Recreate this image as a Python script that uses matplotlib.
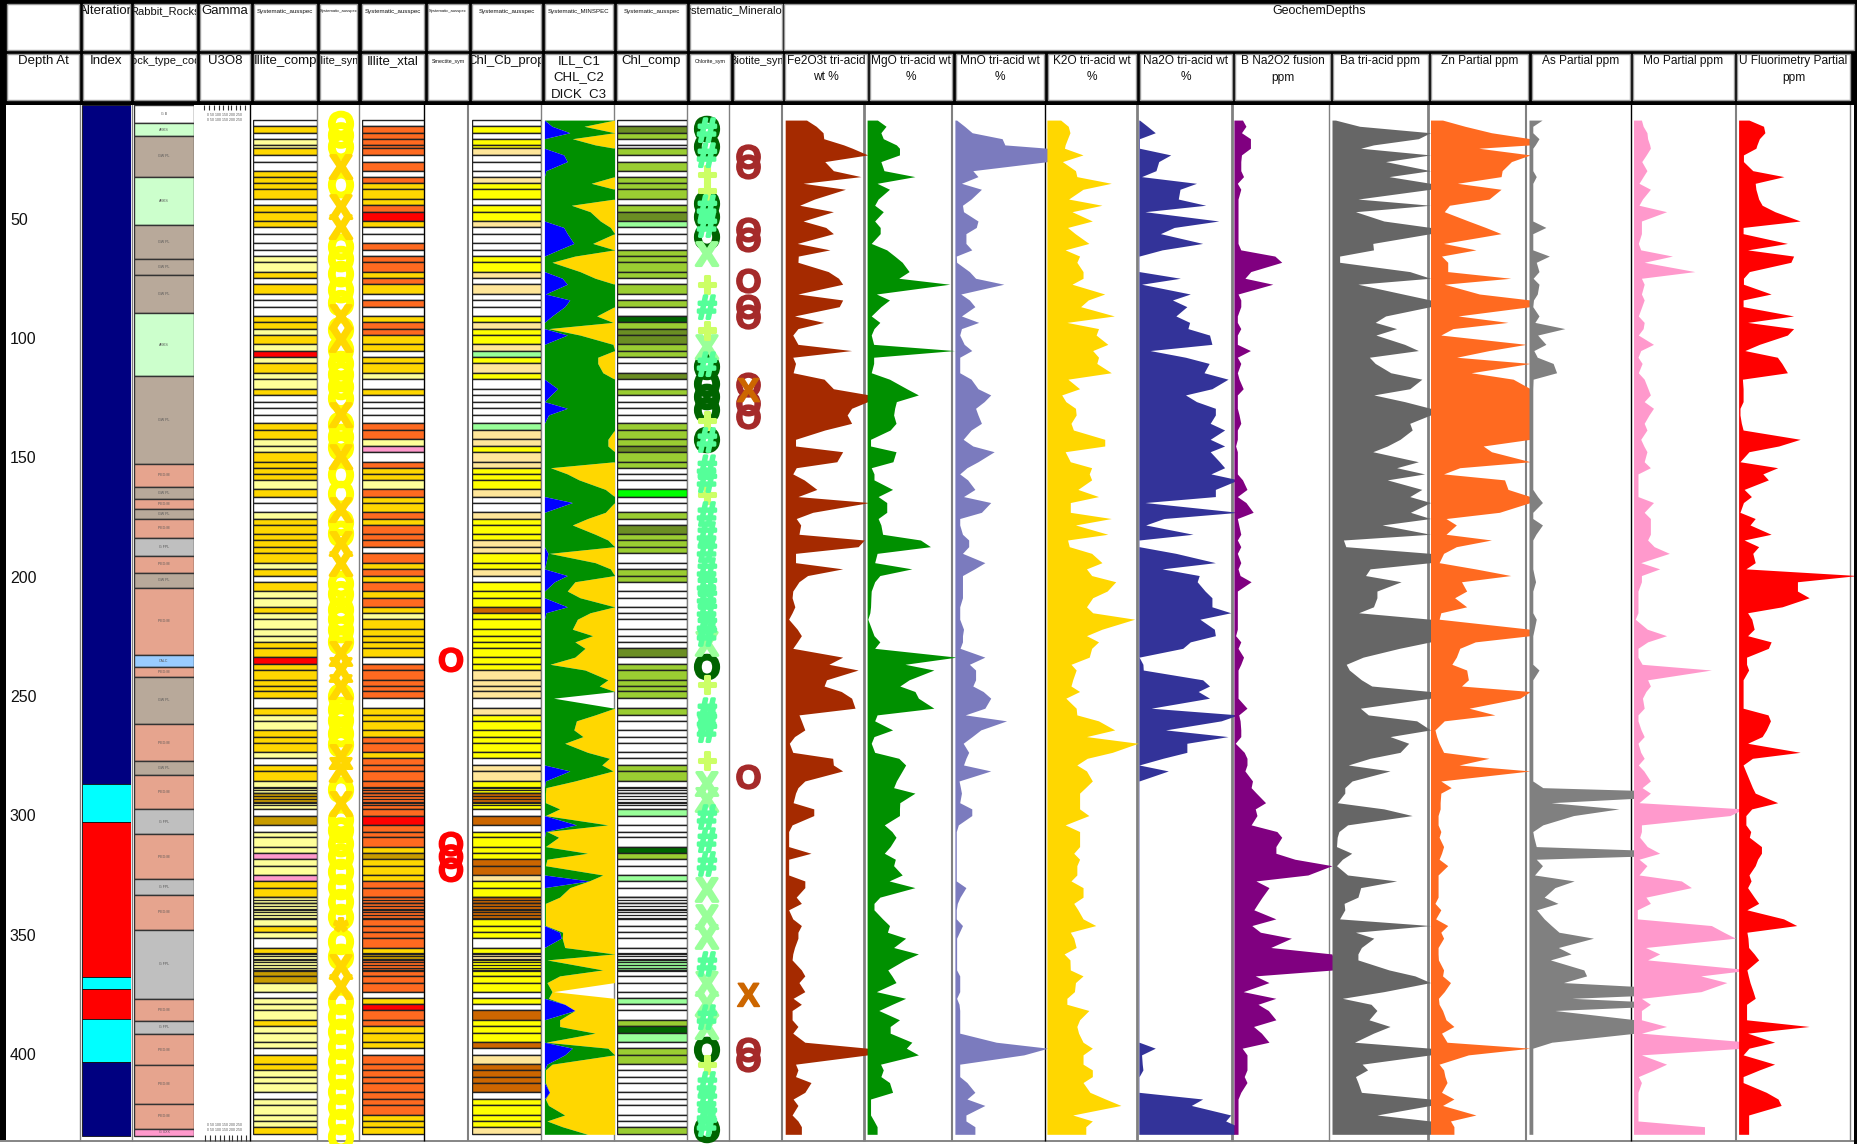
import matplotlib
matplotlib.use('Agg')
import matplotlib.pyplot as plt
import matplotlib.patheffects as pe
from matplotlib.patches import Rectangle

plt.rcParams['font.family'] = ['Liberation Sans', 'DejaVu Sans']

W, H = 1858, 1144
TOP_Y, BOT_Y = 104, 1141
DEPTH_TOP, DEPTH_BOT = 1.26, 435.9

depth = [
    8.0, 10.6, 13.3, 15.8, 18.4, 19.8, 22.6, 25.4, 29.2, 31.7,
    34.5, 37.0, 41.1, 43.7, 46.4, 50.3, 53.0, 55.6, 59.7, 62.4,
    65.0, 67.6, 71.5, 74.3, 76.8, 80.9, 83.4, 86.2, 90.1, 92.8,
    95.4, 98.1, 102.0, 104.6, 107.4, 110.0, 113.9, 116.6, 120.6, 123.2,
    126.0, 128.8, 131.6, 135.1, 137.9, 141.8, 144.6, 147.0, 151.2, 153.7,
    156.3, 158.8, 162.8, 165.8, 168.3, 172.4, 175.0, 177.7, 181.6, 184.0,
    186.8, 189.6, 193.5, 196.1, 198.9, 201.5, 205.4, 208.2, 212.0, 214.5,
    217.2,
    221.4, 224.1, 226.7, 229.4, 233.1, 236.1, 238.5, 242.6, 245.2, 247.5,
    250.3, 254.5, 257.3, 259.8, 263.6, 266.4, 269.2, 273.0, 275.5, 278.3,
    280.8, 285.0, 287.8, 290.1, 294.1, 296.7, 299.5, 303.4, 306.2, 308.6,
    312.5, 315.3, 317.8, 320.5, 324.4, 326.9, 329.7, 333.7, 336.3, 339.0,
    342.8, 345.6, 348.4, 350.9, 354.8, 357.5, 360.0, 364.2, 366.7, 369.5,
    373.3, 376.1, 378.6, 381.2, 385.1, 387.9, 390.7, 394.5, 397.0, 399.8,
    403.7, 406.1, 408.9, 411.4, 415.5, 418.3, 421.0, 425.0, 427.5, 429.9,
    433.1,
]

fe2o3 = [
    62, 90, 110, 112, 170, 195, 240, 115, 140, 220,
    52, 175, 85, 42, 140, 52, 118, 140, 35, 130,
    38, 37, 125, 155, 167, 37, 167, 157, 27, 112,
    37, 22, 37, 193, 22, 30, 23, 113, 140, 245,
    240, 193, 180, 193, 115, 30, 30, 167, 150, 32,
    22, 55, 92, 37, 245, 80, 32, 45, 40, 230,
    212, 30, 30, 167, 65, 40, 22, 20, 28, 20,
    10,
    35, 47, 35, 22, 167, 127, 212, 120, 113, 163,
    193, 203, 40, 47, 57, 27, 12, 22, 138, 140,
    167, 57, 37, 30, 23, 83, 83, 20, 10, 10,
    10, 75, 10, 10, 10, 57, 57, 32, 47, 10,
    22, 47, 37, 37, 27, 22, 20, 47, 57, 40,
    57, 23, 47, 20, 20, 37, 22, 57, 240, 240,
    30, 37, 30, 75, 57, 23, 37, 20, 37, 47,
    47,
]
mgo = [
    30, 55, 40, 47, 85, 94, 94, 40, 49, 139,
    29, 65, 32, 22, 47, 22, 38, 38, 12, 57,
    80, 102, 122, 92, 240, 27, 65, 40, 12, 37,
    20, 12, 19, 254, 19, 19, 12, 65, 115, 149,
    85, 80, 77, 84, 67, 10, 10, 84, 75, 12,
    20, 20, 74, 32, 57, 57, 32, 40, 45, 155,
    184, 29, 22, 130, 37, 22, 12, 11, 10, 8,
    2,
    13, 20, 37, 22, 260, 110, 194, 122, 95, 139,
    149, 194, 29, 22, 74, 20, 12, 22, 92, 112,
    102, 85, 77, 139, 95, 94, 94, 50, 72, 84,
    67, 50, 82, 77, 102, 64, 139, 37, 20, 20,
    45, 65, 59, 112, 77, 149, 110, 60, 72, 84,
    27, 112, 73, 34, 94, 67, 67, 130, 114, 149,
    39, 47, 40, 65, 74, 10, 10, 10, 20, 29,
    29,
]
mno = [
    5, 28, 50, 137, 145, 270, 270, 270, 52, 67,
    19, 77, 47, 22, 25, 67, 62, 32, 32, 49,
    4, 5, 42, 60, 142, 17, 42, 58, 19, 69,
    19, 14, 27, 49, 14, 14, 14, 47, 67, 104,
    85, 60, 67, 77, 47, 24, 52, 114, 67, 35,
    14, 37, 58, 25, 104, 77, 14, 14, 22, 40,
    40, 22, 87, 57, 22, 22, 22, 22, 14, 14,
    14,
    25, 22, 22, 15, 87, 42, 60, 60, 52, 82,
    104, 87, 30, 150, 75, 50, 24, 40, 32, 25,
    104, 12, 16, 19, 14, 49, 49, 10, 4, 4,
    4, 4, 4, 4, 4, 4, 32, 15, 7, 4,
    4, 22, 13, 5, 5, 5, 5, 5, 14, 14,
    14, 5, 12, 14, 14, 14, 14, 120, 270, 200,
    14, 14, 14, 35, 58, 35, 87, 32, 32, 58,
    58,
]
k2o = [
    40, 62, 67, 60, 53, 51, 105, 45, 83, 87,
    187, 105, 63, 160, 73, 132, 60, 82, 122, 53,
    95, 87, 105, 105, 73, 168, 120, 98, 196, 58,
    150, 143, 177, 133, 150, 145, 187, 61, 95, 43,
    55, 83, 85, 70, 77, 168, 168, 53, 68, 130,
    123, 130, 90, 150, 68, 68, 187, 83, 177, 60,
    65, 130, 160, 115, 130, 200, 175, 133, 115, 133,
    255,
    160, 115, 150, 130, 123, 70, 85, 75, 70, 95,
    55, 85, 87, 150, 197, 115, 265, 190, 117, 87,
    115, 132, 112, 95, 95, 95, 122, 53, 95, 95,
    95, 78, 95, 87, 87, 70, 105, 105, 78, 90,
    105, 142, 68, 78, 85, 50, 67, 68, 105, 83,
    80, 58, 58, 122, 95, 87, 92, 105, 132, 105,
    105, 132, 132, 105, 125, 170, 215, 75, 132, 113,
    113,
]
na2o = [
    2, 25, 48, 2, 2, 2, 93, 58, 50, 8,
    168, 120, 115, 195, 18, 233, 103, 63, 186, 68,
    1, 1, 1, 121, 8, 150, 98, 140, 108, 148,
    143, 206, 213, 33, 136, 205, 190, 260, 213, 136,
    168, 223, 223, 208, 250, 208, 250, 208, 235, 250,
    210, 290, 223, 223, 18, 290, 73, 20, 158, 1,
    1, 108, 223, 68, 176, 170, 193, 213, 213, 268,
    178,
    220, 223, 150, 128, 1, 12, 13, 186, 206, 173,
    206, 36, 290, 240, 78, 260, 140, 140, 70, 1,
    86, 1, 1, 1, 1, 1, 1, 1, 1, 1,
    1, 1, 1, 1, 1, 1, 1, 1, 1, 1,
    1, 1, 1, 1, 1, 1, 1, 1, 1, 1,
    1, 1, 1, 1, 1, 1, 1, 1, 48, 8,
    10, 12, 1, 1, 1, 186, 153, 268, 253, 290,
    290,
]
boron = [
    25, 35, 22, 48, 48, 48, 22, 20, 20, 28,
    10, 20, 12, 12, 12, 12, 12, 12, 12, 20,
    119, 139, 49, 32, 113, 12, 20, 20, 10, 10,
    20, 10, 10, 48, 10, 20, 10, 15, 27, 10,
    10, 10, 15, 20, 10, 10, 5, 10, 10, 10,
    10, 25, 38, 10, 35, 56, 10, 14, 20, 10,
    20, 10, 20, 12, 18, 50, 10, 10, 10, 10,
    10,
    10, 5, 20, 12, 28, 20, 12, 12, 12, 12,
    12, 38, 14, 18, 20, 20, 4, 30, 38, 38,
    32, 54, 50, 65, 92, 62, 67, 50, 125, 139,
    122, 122, 177, 285, 215, 64, 102, 82, 70, 58,
    122, 52, 77, 167, 107, 285, 290, 290, 62, 102,
    27, 122, 70, 100, 122, 57, 80, 102, 24, 38,
    38, 38, 30, 38, 20, 12, 12, 12, 12, 12,
    12,
]
ba = [
    10, 80, 285, 250, 120, 83, 285, 155, 285, 165,
    285, 285, 75, 285, 68, 150, 285, 285, 118, 120,
    22, 22, 225, 285, 75, 205, 285, 285, 155, 125,
    187, 127, 210, 250, 108, 125, 170, 260, 225, 121,
    210, 285, 285, 225, 232, 197, 160, 118, 250, 187,
    268, 160, 260, 225, 285, 227, 285, 145, 285, 33,
    40, 285, 285, 110, 97, 200, 130, 130, 120, 77,
    285,
    285, 285, 285, 195, 90, 41, 50, 85, 115, 285,
    285, 82, 105, 245, 285, 168, 222, 197, 110, 47,
    168, 58, 37, 37, 15, 150, 232, 45, 20, 15,
    13, 57, 30, 13, 45, 187, 83, 75, 35, 37,
    22, 285, 68, 121, 85, 75, 75, 165, 240, 285,
    150, 30, 113, 130, 107, 168, 120, 65, 285, 285,
    87, 103, 68, 75, 85, 285, 285, 130, 285, 285,
    285,
]
zn = [
    35, 100, 177, 290, 290, 140, 290, 235, 208, 205,
    78, 205, 170, 55, 40, 110, 160, 205, 38, 132,
    32, 50, 50, 233, 40, 142, 290, 290, 80, 225,
    65, 30, 278, 170, 76, 290, 118, 240, 290, 290,
    290, 290, 290, 290, 290, 290, 153, 177, 290, 85,
    38, 215, 225, 290, 290, 200, 45, 75, 45, 177,
    75, 38, 25, 130, 233, 90, 105, 70, 105, 30,
    25,
    290, 290, 130, 85, 75, 62, 105, 110, 90, 290,
    260, 112, 187, 40, 13, 18, 25, 38, 170, 83,
    290, 30, 60, 30, 28, 28, 22, 22, 30, 25,
    38, 32, 25, 50, 22, 22, 22, 22, 13, 30,
    15, 50, 30, 38, 22, 22, 23, 38, 35, 58,
    40, 23, 25, 35, 45, 68, 32, 48, 290, 110,
    25, 38, 42, 48, 32, 68, 35, 132, 58, 68,
    68,
]
arsenic = [
    38, 11, 11, 29, 18, 11, 11, 11, 11, 21,
    11, 11, 11, 11, 11, 11, 49, 11, 11, 11,
    59, 21, 29, 12, 29, 24, 13, 11, 29, 17,
    104, 25, 49, 14, 24, 70, 80, 12, 11, 11,
    11, 11, 11, 11, 11, 11, 11, 11, 11, 11,
    11, 11, 11, 25, 39, 11, 11, 39, 20, 11,
    11, 11, 11, 11, 15, 19, 11, 11, 11, 11,
    21,
    15, 11, 11, 11, 11, 11, 29, 11, 11, 11,
    11, 11, 11, 11, 11, 11, 11, 11, 11, 11,
    11, 11, 40, 600, 64, 261, 129, 40, 11, 14,
    21, 600, 21, 39, 16, 131, 75, 44, 84, 22,
    44, 65, 87, 187, 85, 122, 62, 159, 167, 100,
    600, 124, 500, 75, 310, 310, 310, 66, 11, 11,
    11, 11, 11, 11, 11, 11, 11, 11, 11, 11,
    11,
]
mo = [
    23, 28, 39, 41, 47, 49, 37, 24, 39, 28,
    16, 49, 26, 16, 96, 23, 23, 23, 14, 21,
    113, 31, 178, 23, 31, 23, 31, 24, 14, 31,
    28, 14, 58, 21, 13, 25, 14, 31, 42, 49,
    31, 58, 45, 31, 39, 21, 30, 39, 31, 49,
    13, 13, 13, 13, 58, 31, 49, 49, 49, 41,
    60, 104, 21, 76, 23, 23, 13, 13, 13, 13,
    5,
    40, 96, 41, 13, 13, 25, 226, 41, 49, 36,
    26, 31, 13, 13, 22, 31, 13, 21, 31, 14,
    30, 49, 25, 49, 16, 320, 280, 23, 23, 18,
    40, 76, 16, 39, 16, 139, 168, 36, 49, 11,
    11, 226, 262, 296, 35, 76, 41, 340, 195, 271,
    196, 23, 49, 23, 23, 96, 23, 340, 320, 23,
    96, 60, 14, 23, 13, 13, 13, 13, 13, 206,
    206,
]
uranium = [
    30, 72, 76, 60, 53, 50, 14, 14, 41, 131,
    48, 50, 58, 68, 105, 178, 13, 13, 141, 26,
    159, 151, 31, 14, 14, 94, 13, 13, 159, 26,
    159, 141, 60, 18, 112, 125, 141, 11, 13, 13,
    13, 4, 4, 8, 13, 178, 116, 30, 4, 113,
    70, 86, 16, 37, 14, 4, 48, 33, 94, 16,
    58, 41, 48, 21, 344, 170, 170, 204, 126, 26,
    38,
    45, 26, 94, 86, 23, 23, 29, 13, 13, 13,
    13, 13, 85, 92, 80, 68, 26, 178, 40, 13,
    20, 32, 40, 48, 113, 38, 21, 21, 35, 31,
    66, 66, 55, 48, 30, 36, 26, 45, 58, 24,
    130, 168, 24, 27, 29, 45, 58, 24, 28, 33,
    42, 48, 23, 23, 23, 204, 26, 104, 30, 13,
    104, 60, 13, 13, 80, 114, 123, 29, 29, 29,
    29,
]

# edges of the stacked ILL / CHL / DICK track
ill_edge = [
    0, 15, 50, 0, 0, 0, 38, 45, 3, 0,
    0, 0, 0, 0, 0, 0, 38, 45, 58, 28,
    0, 0, 0, 35, 45, 2, 50, 40, 15, 0,
    0, 45, 0, 0, 0, 0, 0, 0, 26, 13,
    0, 45, 8, 0, 0, 0, 0, 0, 0, 0,
    0, 0, 0, 0, 55, 0, 0, 0, 0, 0,
    0, 7, 3, 0, 45, 20, 0, 0, 45, 3,
    0,
    0, 0, 0, 0, 0, 0, 0, 0, 0, 0,
    0, 0, 0, 0, 0, 0, 0, 0, 0, 0,
    50, 2, 0, 0, 0, 0, 0, 63, 2, 0,
    0, 0, 0, 0, 0, 88, 0, 0, 0, 0,
    0, 0, 30, 33, 0, 0, 0, 0, 0, 0,
    0, 0, 40, 60, 0, 0, 0, 0, 55, 40,
    5, 0, 0, 0, 10, 0, 0, 0, 0, 0,
    0,
]
chl_edge = [
    138, 78, 138, 55, 100, 138, 138, 138, 138, 138,
    92, 138, 138, 53, 90, 110, 130, 138, 95, 138,
    60, 15, 70, 100, 138, 138, 138, 138, 103, 135,
    8, 70, 135, 138, 105, 105, 115, 138, 138, 138,
    138, 138, 138, 138, 138, 125, 125, 138, 138, 12,
    45, 68, 120, 138, 138, 120, 85, 55, 100, 125,
    138, 10, 100, 130, 138, 60, 45, 70, 138, 90,
    65,
    55, 95, 60, 80, 60, 11, 80, 125, 108, 138,
    18, 138, 100, 63, 58, 76, 40, 85, 128, 113,
    135, 60, 3, 2, 2, 30, 2, 125, 5, 28,
    2, 85, 5, 2, 115, 88, 50, 30, 2, 2,
    2, 2, 36, 35, 40, 138, 5, 115, 30, 5,
    15, 8, 40, 60, 30, 30, 100, 3, 125, 138,
    15, 2, 2, 2, 10, 2, 8, 40, 5, 35,
    85,
]
dick_edge = [
    138, 138, 138, 138, 138, 138, 138, 138, 138, 138,
    138, 138, 138, 138, 138, 138, 138, 138, 138, 138,
    138, 138, 138, 138, 138, 138, 138, 138, 138, 138,
    138, 138, 138, 138, 138, 138, 138, 138, 138, 138,
    138, 138, 138, 138, 138, 138, 138, 138, 138, 138,
    138, 138, 138, 138, 138, 138, 138, 138, 138, 138,
    138, 138, 138, 138, 138, 138, 138, 138, 138, 138,
    138,
    138, 138, 138, 138, 138, 138, 138, 138, 138, 138,
    18, 138, 138, 138, 138, 138, 138, 138, 138, 138,
    138, 138, 138, 138, 138, 138, 138, 138, 138, 138,
    138, 138, 138, 138, 138, 138, 138, 138, 138, 138,
    138, 138, 138, 138, 138, 138, 138, 138, 138, 138,
    18, 138, 138, 138, 138, 138, 138, 138, 138, 138,
    138, 138, 138, 138, 138, 138, 138, 138, 138, 138,
    138,
]

illite_comp = (
    "WGWLLGWWGG" "GGWGGGWWWW" "LLGWGWWWGG" "LGLRLGLLGW" "WWWGGLLGGG"
    "GLGWWLGGGG" "GGLGWGLLGL" "LLLGGRGGGG" "GWGLLGGGLW" "GGLLDLWDWL"
    "LLPLLPGGLL" "LLGLWGLLDD" "LWLLLGLLLW" "GGLLLWLLLLG"
)
illite_xtal = (
    "WOOOOOWOWO" "GGGORGWWOW" "OOGOGWOWGO" "OGGWGGLWGW" "WWWOOLPWOG"
    "GLOGGOGOOO" "WOGOGOGOGL" "GGGGGWOOOO" "OWGGGGOOGO" "OOOOOOOROO"
    "OGDGGGOOOO" "OOOOOGDOOO" "OWGROOGGGW" "OOOOOOOOGGG"
)
chl_cb_prop = (
    "WYWYYTWWWT" "YYWYYTWWWW" "YYTWTWWWYT" "YYTMYTYWWW" "WWWMTTYTTY"
    "YYTWWTYYYT" "TYYTWYYYBY" "YYYYYYYTTT" "TWTYYYYYYW" "TTYYBYWBWY"
    "YYYBBTYYBB" "BYYYWYTYYY" "YWYWBYYYBW" "TBBBBWYYYYT"
)
chl_comp = (
    "WAKWWKWKWK" "KKWKAMWWWK" "KKKWKWKWVK" "AAKKWWAWKW" "WWWKKKAKKW"
    "WWNWWKWAKK" "KWWKKWWWWW" "WWWWAWKKKK" "KWKWWWWWWW" "KKWWWWMWWW"
    "WVKWWMWWWW" "WWWWWWWMWW" "WWMWWKVMWK" "KWWWWWWWWWK"
)
strip_colors = {
    'W': '#FFFFFF', 'G': '#FFD700', 'L': '#FFFF99', 'R': '#FF0000',
    'P': '#FF99CC', 'D': '#C89B00', 'O': '#FF6A20', 'Y': '#FFFF00',
    'T': '#FFE699', 'M': '#99FF99', 'B': '#CC6600', 'K': '#9ACD32',
    'A': '#6B8E23', 'N': '#00FF00', 'V': '#006400',
}
fine_lines = [
    287.5, 288.7, 290.0, 291.2, 292.5, 293.7, 295.0,
    333.8, 335.0, 336.2, 337.5, 338.7, 340.0, 341.2, 342.5,
    357.2, 358.5, 359.7, 361.0, 362.2, 363.5, 364.7,
]

rock_bounds = [
    1.7, 9.4, 14.5, 31.9, 51.8, 66.2, 72.9, 88.9, 115.3, 152.3,
    161.6, 167.0, 170.9, 175.1, 183.1, 190.8, 197.7, 204.1, 232.0, 237.1,
    241.3, 261.0, 276.8, 282.5, 296.9, 307.4, 326.0, 332.7, 347.4, 376.4,
    385.7, 390.9, 404.2, 420.2, 430.7, 433.6,
]
rock_codes = [
    'G B', 'ARKS', 'GW PL', 'ARKS', 'GW PL', 'GW PL', 'GW PL', 'ARKS', 'GW PL', 'PEG M',
    'GW PL', 'PEG M', 'GW PL', 'PEG M', 'G FPL', 'PEG M', 'GW PL', 'PEG M', 'CALC', 'PEG M',
    'GW PL', 'PEG M', 'GW PL', 'PEG M', 'G FPL', 'PEG M', 'G FPL', 'PEG M', 'G FPL', 'PEG M',
    'G FPL', 'PEG M', 'PEG M', 'PEG M', 'G XXX',
]
rock_colors = {
    'G B': '#FFFFFF', 'ARKS': '#CCFFCC', 'GW PL': '#B8A99A', 'PEG M': '#E6A48E',
    'G FPL': '#BFBFBF', 'CALC': '#99CCFF', 'G XXX': '#FF99CC',
}

alteration_bounds = [1.7, 286.3, 302.0, 367.0, 372.2, 384.6, 402.9, 434.0]
alteration_colors = ['#000080', '#00FFFF', '#FF0000', '#00FFFF', '#FF0000', '#00FFFF', '#000080']

illite_o = [
    10.9, 15.7, 20.5, 36.5, 62.4, 67.5, 73.8, 80.5, 86.0, 97.2,
    105.5, 111.5, 116.0, 121.1, 126.0, 137.0, 142.1, 146.5, 158.0, 166.0,
    178.0, 182.7, 203.7, 208.0, 214.6, 218.5, 223.0, 228.0, 251.0, 256.5,
    261.0, 266.6, 271.0, 290.0, 302.6, 307.0, 312.7, 318.0, 324.4, 330.7,
    337.0, 343.3, 353.7, 360.0, 378.9, 385.2, 391.4, 397.7, 404.0, 410.3,
    416.6, 422.9, 429.2, 435.5,
]
illite_x = [
    28.9, 45.7, 54.1, 91.8, 101.4, 132.9, 150.5, 172.7, 186.9, 195.3,
    233.0, 239.7, 246.9, 276.2, 281.6, 295.9, 364.2, 372.6,
]
illite_star = [348.7]
smectite_o = [235.5, 312.7, 318.0, 323.5]
chlorite_o = [13.0, 20.5, 44.4, 49.9, 58.3, 112.7, 119.9, 125.3, 130.8, 143.3, 238.5, 399.0, 432.5]
chlorite_x = [65.4, 104.4, 228.8, 287.5, 294.2, 331.9, 343.3, 351.6, 371.3, 379.7, 389.4]
chlorite_plus = [31.9, 38.6, 78.0, 97.2, 135.0, 166.0, 245.6, 277.5, 404.9]
chlorite_hash = [
    13.4, 23.9, 45.7, 53.2, 87.6, 111.5, 143.3, 154.7, 160.1, 174.3,
    182.7, 189.4, 197.8, 203.7, 209.1, 214.6, 220.5, 224.6, 256.5, 260.7,
    264.9, 301.3, 311.0, 321.0, 362.9, 385.2, 413.2, 419.9, 425.8, 430.0,
]
biotite_o = [24.7, 28.9, 55.3, 59.5, 76.7, 87.6, 91.8, 120.3, 128.2, 133.7, 284.6, 399.0, 403.2]
biotite_x = [122.4, 375.9]

depth_ticks = [50, 100, 150, 200, 250, 300, 350, 400]

column_edges = [
    80, 132, 250, 317, 359, 424.5, 468, 541, 614, 687, 728.6, 782,
    864.5, 952.4, 1045, 1137, 1232, 1329, 1428, 1526, 1631, 1736, 1850,
]
column_edge_colors = [
    'gray', 'gray', 'black', 'gray', 'gray', 'black', 'gray', 'gray', 'gray', 'gray', 'gray', 'gray',
    'gray', 'gray', 'black', 'gray', 'gray', 'gray', 'gray', 'gray', 'black', 'gray', 'gray',
]
column_edge_widths = [
    1, 1, 1, 1, 1, 1, 1.5, 1, 1, 1, 1, 1.5,
    2, 1.5, 1, 2, 2, 1, 2, 1.5, 1, 1.5, 1,
]

top_cells = [
    (7, 79, '', 10), (83, 130, 'Alteration', 9.5), (134, 196, 'Rabbit_Rocks', 8),
    (200, 250, 'Gamma', 9.5), (254, 316, 'Systematic_ausspec', 4.4),
    (320, 357, 'Systematic_ausspec', 3), (362, 424, 'Systematic_ausspec', 4.4),
    (428, 468, 'Systematic_ausspec', 3), (472, 541, 'Systematic_ausspec', 4.4),
    (545, 613, 'Systematic_MINSPEC', 4.4), (617, 686, 'Systematic_ausspec', 4.4),
    (690, 782, 'Systematic_Mineralogy', 8), (784, 1854, 'GeochemDepths', 9),
]
bottom_cells = [
    (7, 79, 'Depth At', 9.5), (83, 130, 'Index', 9.5), (134, 196, 'Rock_type_code', 8),
    (200, 250, 'U3O8', 9.5), (254, 316, 'Illite_comp', 9.5), (320, 357, 'Illite_sym', 8),
    (362, 424, 'Illite_xtal', 9.5), (428, 468, 'Smectite_sym', 3.8), (472, 541, 'Chl_Cb_prop', 9.5),
    (545, 613, 'ILL_C1\nCHL_C2\nDICK_C3', 9.5), (617, 686, 'Chl_comp', 9.5),
    (690, 730, 'Chlorite_sym', 3.8), (734, 782, 'Biotite_sym', 8),
    (785, 867, 'Fe2O3t tri-acid\nwt %', 8.6), (870, 952, 'MgO tri-acid wt\n%', 8.6),
    (956, 1044, 'MnO tri-acid wt\n%', 8.6), (1048, 1136, 'K2O tri-acid wt\n%', 8.6),
    (1140, 1232, 'Na2O tri-acid wt\n%', 8.6), (1235, 1330, 'B Na2O2 fusion\nppm', 8.6),
    (1333, 1428, 'Ba tri-acid ppm', 8.6), (1431, 1528, 'Zn Partial ppm', 8.6),
    (1532, 1630, 'As Partial ppm', 8.6), (1633, 1734, 'Mo Partial ppm', 8.6),
    (1737, 1850, 'U Fluorimetry Partial\nppm', 8.6),
]

gamma_ticks = [204, 209, 214, 219, 223, 228, 231, 236, 240, 245]


def track_axes(fig, x0, x1, zorder):
    ax = fig.add_axes([x0 / W, 1 - BOT_Y / H, (x1 - x0) / W, (BOT_Y - TOP_Y) / H], zorder=zorder)
    ax.set_ylim(DEPTH_BOT, DEPTH_TOP)
    ax.patch.set_alpha(0)
    ax.axis('off')
    return ax


def draw_fill(fig, x0, x1, values, x_max, color, zorder):
    ax = track_axes(fig, x0, x1, zorder)
    ax.set_xlim(0, x_max)
    ax.fill_betweenx(depth, 0, values, color=color, lw=0)


def draw_strips(fig, x0, x1, codes, zorder):
    ax = track_axes(fig, x0, x1, zorder)
    ax.set_xlim(0, 1)
    for i, code in enumerate(codes):
        ax.barh(depth[i], 1, height=depth[i + 1] - depth[i], align='edge',
                color=strip_colors[code], edgecolor='#222222', lw=1.0)
    ax.hlines(fine_lines, 0, 1, color='#222222', lw=0.9)


def draw_symbols(ax, depths, symbol, color, size=24, stroke=2.2):
    for d in depths:
        ax.text(0.5, d, symbol, color=color, fontsize=size, fontweight='bold',
                ha='center', va='center', clip_on=False,
                path_effects=[pe.withStroke(linewidth=stroke, foreground=color)])


def draw_cells(hdr, cells, y0, y1):
    for x0, x1, label, size in cells:
        cell = Rectangle((x0, y0), x1 - x0, y1 - y0, fc='white', ec='#999999', lw=1)
        hdr.add_patch(cell)
        if not label:
            continue
        for n, line in enumerate(label.split('\n')):
            text = hdr.text((x0 + x1) / 2, y0 + 7 + n * 16.5, line, fontsize=size,
                            ha='center', va='center', color='#111111', clip_on=True)
            text.set_clip_path(cell)


def main():
    fig = plt.figure(figsize=(W / 100, H / 100), dpi=100, facecolor='white')

    back = fig.add_axes([0, 0, 1, 1], zorder=0)
    back.set_xlim(0, W)
    back.set_ylim(H, 0)
    back.axis('off')
    for x, color, width in zip(column_edges, column_edge_colors, column_edge_widths):
        back.vlines(x, TOP_Y, BOT_Y, color=color, lw=width)
    back.add_patch(Rectangle((0, 1140), W, 2, fc='#888888', lw=0))
    for x in gamma_ticks:
        back.vlines(x, 105, 110, color='#333333', lw=0.8)
        back.vlines(x + 1, 1135, 1141, color='#333333', lw=0.8)
    for y in (115, 120, 1125, 1130):
        back.text(225, y, '0 50 100 150 200 250', fontsize=2.5, ha='center', va='center', color='#555555')

    ax = track_axes(fig, 7, 80, 1)
    ax.set_xlim(0, 1)
    for d in depth_ticks:
        ax.text(0.04, d, str(d), fontsize=11.5, ha='left', va='center', color='#111111')

    ax = track_axes(fig, 82, 131, 1)
    ax.set_xlim(0, 1)
    for i, color in enumerate(alteration_colors):
        ax.barh(alteration_bounds[i], 1, height=alteration_bounds[i + 1] - alteration_bounds[i],
                align='edge', color=color, edgecolor='#111111', lw=0.6)

    ax = track_axes(fig, 134, 194, 1)
    ax.set_xlim(0, 1)
    for i, code in enumerate(rock_codes):
        mid = (rock_bounds[i] + rock_bounds[i + 1]) / 2
        ax.barh(rock_bounds[i], 1, height=rock_bounds[i + 1] - rock_bounds[i], align='edge',
                color=rock_colors[code], edgecolor='#333333', lw=1.0)
        ax.text(0.5, mid, code, fontsize=2.6, ha='center', va='center', color='#555555')

    draw_strips(fig, 253.5, 317, illite_comp, 1)
    draw_strips(fig, 362, 424.5, illite_xtal, 1)
    draw_strips(fig, 472, 541, chl_cb_prop, 1)
    draw_strips(fig, 617, 687, chl_comp, 1)

    ax = track_axes(fig, 320, 362, 2)
    ax.set_xlim(0, 1)
    draw_symbols(ax, illite_o, 'O', '#FFFF00')
    draw_symbols(ax, illite_x, 'X', '#FFD700')
    draw_symbols(ax, illite_star, '*', '#FFD700')

    ax = track_axes(fig, 430, 472, 2)
    ax.set_xlim(0, 1)
    draw_symbols(ax, smectite_o, 'O', '#FF0000', stroke=1.2)

    ax = track_axes(fig, 544.4, 614.5, 1)
    ax.set_xlim(0, 138)
    ax.fill_betweenx(depth, chl_edge, dick_edge, color='#FFD700', lw=0)
    ax.fill_betweenx(depth, ill_edge, chl_edge, color='#009000', lw=0)
    ax.fill_betweenx(depth, 0, ill_edge, color='#0000FF', lw=0)

    ax = track_axes(fig, 686, 728, 2)
    ax.set_xlim(0, 1)
    draw_symbols(ax, chlorite_o, 'O', '#006400')
    draw_symbols(ax, chlorite_x, 'X', '#99FF99')
    draw_symbols(ax, chlorite_plus, '+', '#CCFF66')
    draw_symbols(ax, chlorite_hash, '#', '#55FF99')

    ax = track_axes(fig, 728, 769, 2)
    ax.set_xlim(0, 1)
    draw_symbols(ax, biotite_o, 'O', '#A52A2A', stroke=1.2)
    draw_symbols(ax, biotite_x, 'X', '#CC6600', stroke=1.2)

    draw_fill(fig, 785.2, 867.1, fe2o3, 238, '#A52A00', 3)
    draw_fill(fig, 867.1, 954.9, mgo, 255, '#009000', 4)
    draw_fill(fig, 954.9, 1046.9, mno, 267, '#7B7BBE', 5)
    draw_fill(fig, 1046.9, 1138.8, k2o, 267, '#FFD700', 6)
    draw_fill(fig, 1138.8, 1233.9, na2o, 277, '#333399', 7)
    draw_fill(fig, 1233.9, 1332, boron, 285, '#800080', 8)
    draw_fill(fig, 1332, 1430.5, ba, 285, '#666666', 9)
    draw_fill(fig, 1430.5, 1529, zn, 286, '#FF6A20', 10)
    draw_fill(fig, 1529, 1633.5, arsenic, 303, '#808080', 11)
    draw_fill(fig, 1633.5, 1738.6, mo, 305, '#FF99CC', 12)
    draw_fill(fig, 1738.6, W, uranium, 345, '#FF0000', 13)

    hdr = fig.add_axes([0, 0, 1, 1], zorder=20)
    hdr.set_xlim(0, W)
    hdr.set_ylim(H, 0)
    hdr.axis('off')
    hdr.patch.set_alpha(0)
    hdr.add_patch(Rectangle((0, 0), W, 105, fc='black', lw=0))
    hdr.add_patch(Rectangle((0, 0), 6, 1140, fc='black', lw=0))
    hdr.add_patch(Rectangle((1854, 0), 4, 1144, fc='black', lw=0))
    draw_cells(hdr, top_cells, 4, 50)
    draw_cells(hdr, bottom_cells, 54, 100)

    fig.savefig('out.png', dpi=100)


main()
